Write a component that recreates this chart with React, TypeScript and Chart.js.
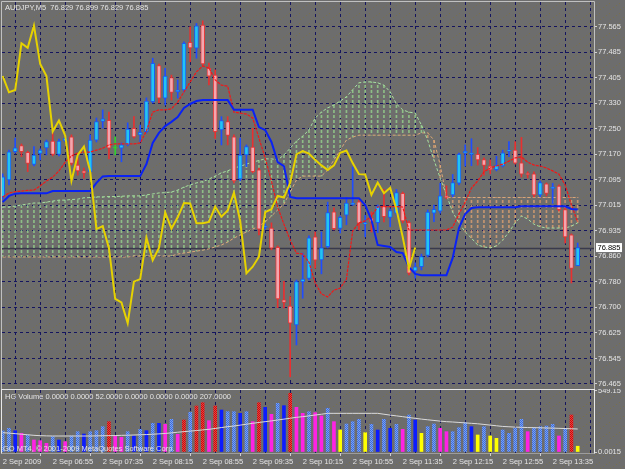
import React, { useEffect, useRef } from "react";
import { Chart, registerables } from "chart.js";
Chart.register(...registerables);

const FONT = "Liberation Sans";
const symbolName = "AUDJPY,M5";
const timeLabels = ["2 Sep 2009", "2 Sep 06:55", "2 Sep 07:35", "2 Sep 08:15", "2 Sep 08:55", "2 Sep 09:35", "2 Sep 10:15", "2 Sep 10:55", "2 Sep 11:35", "2 Sep 12:15", "2 Sep 12:55", "2 Sep 13:35"];
const priceTickLabels = ["76.465", "76.545", "76.625", "76.700", "76.780", "76.860", "76.935", "77.015", "77.095", "77.170", "77.250", "77.330", "77.405", "77.485", "77.565"];
const volTickValues = [0, 549.15];
const volTickLabels = ["0.0015", "549.15"];
const volTitle = "HG Volume 0.0000 0.0000 52.0000 0.0000 0.0000 0.0000 207.0000";
const copyright = "GO MT4, \u00a9 2001-2009 MetaQuotes Software Corp.";

const opens = [77.042,77.093,77.180,77.199,77.178,77.141,77.175,77.192,77.213,77.172,
77.213,77.226,77.139,77.121,77.119,77.216,77.273,77.277,77.191,77.191,
77.201,77.252,77.232,77.242,77.334,77.445,77.345,77.408,77.365,77.370,
77.517,77.499,77.570,77.437,77.416,77.247,77.273,77.226,77.096,77.170,
77.194,77.124,76.947,76.945,76.886,76.724,76.705,76.647,76.780,76.790,
76.918,76.847,76.888,76.995,76.944,76.985,77.018,77.026,76.958,76.976,
76.962,77.013,76.978,76.991,77.052,76.962,76.813,76.826,76.861,76.991,
76.997,77.043,77.047,77.083,77.176,77.172,77.172,77.156,77.136,77.125,
77.136,77.182,77.185,77.146,77.112,77.112,77.047,77.081,77.067,77.074,
77.002,76.924,76.829];
const highs = [77.112,77.185,77.222,77.204,77.182,77.196,77.189,77.216,77.238,77.219,
77.225,77.232,77.161,77.130,77.232,77.284,77.309,77.302,77.226,77.207,
77.269,77.288,77.262,77.346,77.468,77.450,77.437,77.416,77.401,77.518,
77.565,77.575,77.583,77.453,77.432,77.288,77.288,77.232,77.222,77.201,
77.252,77.130,76.958,76.961,76.890,76.781,76.734,76.785,76.868,76.921,
76.933,76.933,77.025,77.007,76.982,77.039,77.133,77.031,76.984,76.995,
77.016,77.064,77.004,77.064,77.056,76.967,76.838,76.865,77.001,77.016,
77.083,77.075,77.110,77.176,77.201,77.220,77.193,77.161,77.155,77.166,
77.185,77.211,77.211,77.224,77.118,77.118,77.090,77.084,77.083,77.078,
77.007,76.927,76.899];
const lows = [77.035,77.078,77.176,77.165,77.119,77.136,77.155,77.170,77.167,77.167,
77.210,77.139,77.108,77.099,77.115,77.210,77.253,77.158,77.170,77.149,
77.198,77.222,77.211,77.238,77.330,77.330,77.324,77.339,77.345,77.364,
77.457,77.468,77.444,77.386,77.221,77.201,77.201,77.084,77.090,77.134,
77.115,76.924,76.942,76.878,76.700,76.699,76.487,76.585,76.729,76.785,
76.821,76.804,76.884,76.939,76.930,76.955,77.015,76.939,76.918,76.933,
76.931,76.964,76.949,76.985,76.961,76.801,76.791,76.816,76.856,76.965,
76.991,77.035,77.041,77.078,77.136,77.137,77.139,77.108,77.112,77.121,
77.133,77.165,77.142,77.102,77.099,77.041,77.041,77.044,77.021,76.998,
76.899,76.776,76.829];
const closes = [77.103,77.180,77.192,77.180,77.144,77.170,77.185,77.211,77.172,77.213,
77.221,77.144,77.121,77.114,77.216,77.273,77.281,77.191,77.191,77.201,
77.250,77.226,77.240,77.336,77.452,77.345,77.413,77.363,77.370,77.514,
77.500,77.568,77.450,77.413,77.242,77.276,77.230,77.090,77.170,77.196,
77.119,76.942,76.951,76.883,76.727,76.716,76.652,76.780,76.788,76.915,
76.846,76.884,76.993,76.943,76.978,77.022,77.021,76.960,76.960,76.964,
77.011,76.980,76.999,77.054,76.967,76.806,76.826,76.857,76.994,77.003,
77.044,77.039,77.085,77.172,77.182,77.174,77.155,77.138,77.124,77.138,
77.177,77.184,77.145,77.111,77.110,77.047,77.085,77.052,77.069,77.002,
76.918,76.821,76.885];

const tenkan = [77.041,77.053,77.057,77.059,77.061,77.062,77.075,77.090,77.102,77.121,
77.148,77.167,77.176,77.179,77.179,77.185,77.191,77.201,77.204,77.204,
77.204,77.204,77.207,77.244,77.302,77.309,77.309,77.312,77.333,77.364,
77.395,77.426,77.444,77.438,77.401,77.385,77.382,77.302,77.299,77.296,
77.284,77.222,77.161,77.090,77.010,76.957,76.908,76.868,76.865,76.840,
76.776,76.742,76.733,76.754,76.760,76.788,76.936,76.961,76.967,76.982,
77.010,77.011,77.011,77.011,77.010,76.939,76.939,76.939,76.939,76.939,
76.939,76.939,76.948,76.988,77.025,77.068,77.090,77.118,77.130,77.136,
77.142,77.151,77.161,77.164,77.148,77.139,77.136,77.130,77.121,77.111,
77.078,77.016,76.964];
const kijun = [77.025,77.044,77.051,77.052,77.052,77.052,77.052,77.052,77.059,77.059,
77.059,77.059,77.059,77.059,77.059,77.084,77.104,77.105,77.105,77.105,
77.105,77.105,77.105,77.142,77.207,77.238,77.259,77.272,77.287,77.315,
77.327,77.336,77.339,77.339,77.339,77.339,77.339,77.309,77.309,77.309,
77.309,77.256,77.247,77.210,77.148,77.136,77.041,77.037,77.037,77.037,
77.037,77.037,77.037,77.037,77.037,77.037,77.037,77.037,77.016,76.970,
76.893,76.890,76.887,76.871,76.868,76.825,76.804,76.800,76.800,76.800,
76.800,76.800,76.853,76.945,76.988,77.007,77.009,77.009,77.009,77.009,
77.009,77.009,77.009,77.012,77.012,77.012,77.012,77.012,77.012,77.012,
77.012,77.004,77.002];
const spanA = [77.010,77.010,77.013,77.016,77.019,77.022,77.022,77.025,77.028,77.031,
77.031,77.033,77.034,77.038,77.039,77.041,77.041,77.042,77.042,77.043,
77.044,77.044,77.044,77.047,77.050,77.053,77.054,77.056,77.062,77.071,
77.078,77.084,77.088,77.096,77.105,77.115,77.121,77.130,77.135,77.142,
77.148,77.153,77.158,77.158,77.155,77.170,77.191,77.213,77.228,77.247,
77.284,77.302,77.315,77.324,77.336,77.349,77.371,77.392,77.395,77.395,
77.392,77.385,77.364,77.327,77.309,77.302,77.299,77.262,77.216,77.155,
77.099,77.047,76.994,76.961,76.933,76.914,76.893,76.887,76.884,76.890,
76.908,76.933,76.961,76.982,76.973,76.957,76.949,76.945,76.945,76.945,
76.945,76.951,76.961];
const spanB = [76.856,76.856,76.856,76.856,76.856,76.856,76.856,76.856,76.856,76.856,
76.856,76.856,76.856,76.856,76.856,76.856,76.856,76.856,76.856,76.856,
76.856,76.859,76.859,76.859,76.859,76.859,76.859,76.859,76.865,76.868,
76.871,76.874,76.877,76.881,76.887,76.893,76.902,76.914,76.924,76.933,
76.942,76.951,76.964,76.982,77.001,77.019,77.056,77.093,77.105,77.105,
77.105,77.105,77.124,77.155,77.185,77.216,77.225,77.231,77.231,77.231,
77.231,77.231,77.231,77.231,77.231,77.231,77.231,77.238,77.238,77.216,
77.139,77.039,77.039,77.039,77.039,77.039,77.039,77.039,77.039,77.039,
77.039,77.039,77.039,77.039,77.039,77.039,77.039,77.039,77.039,77.039,
77.039,77.039,77.039];

const volumes = [190,213,192,168,153,108,102,78,138,108,
93,144,183,162,183,192,228,273,144,132,
183,144,204,192,258,258,249,294,159,288,
357,414,444,282,414,378,363,363,348,363,
273,444,402,339,438,417,528,402,348,363,
354,324,393,273,198,252,273,294,174,249,
198,294,213,249,204,333,288,168,228,252,
213,183,183,219,264,228,153,228,144,123,
198,168,213,294,183,219,228,234,249,144,
213,333,52];
const volKinds = ["h","h","b","m","h","m","m","m","h","b",
"m","h","h","b","h","h","h","r","m","m",
"h","b","h","b","h","b","m","h","m","r",
"h","r","r","m","r","b","h","h","b","h",
"m","r","b","m","h","b","r","m","m","h",
"m","m","h","m","y","h","h","h","y","h",
"b","h","b","h","m","h","b","y","h","h",
"m","m","h","h","h","b","y","h","y","y",
"h","h","h","h","m","h","h","h","h","m",
"h","r","y"];
const volMA = [174,170,165,160,155,150,147,145,144,144,
144,144,144,144,144,145,146,147,148,150,
151,153,155,157,160,163,167,172,178,183,
188,193,199,204,212,220,228,234,242,250,
258,266,273,280,288,296,304,312,318,325,
333,340,348,348,348,348,348,348,348,348,
348,340,332,325,318,310,303,296,290,284,
278,273,270,266,262,258,254,248,242,236,
230,227,224,222,220,219,218,216,215,213,
211,209,207];

const CHIKOU_SHIFT = 26;
const XMIN = -0.112, XMAX = 94.61;
const YMIN = 76.4588, YMAX = 77.641;
const VMIN = -9, VMAX = 558;

const fontStr = `7.5px "${FONT}"`;

function makeBg(ctx: CanvasRenderingContext2D) {
  const c = document.createElement("canvas");
  c.width = 10; c.height = 10;
  const g = c.getContext("2d")!;
  g.fillStyle = "#6d6d6d"; g.fillRect(0, 0, 10, 10);
  g.fillStyle = "#7b7048";
  [[0, 9], [3, 7], [6, 5], [9, 3]].forEach(([x, y]) => g.fillRect(x, y, 1, 1));
  return ctx.createPattern(c, "repeat");
}
function makeDash(ctx: CanvasRenderingContext2D, color: string) {
  const c = document.createElement("canvas");
  c.width = 2; c.height = 5;
  const g = c.getContext("2d")!;
  g.fillStyle = color; g.fillRect(0, 0, 2, 3);
  return ctx.createPattern(c, "repeat");
}
function makeChecker(ctx: CanvasRenderingContext2D, a: string, b: string) {
  const c = document.createElement("canvas");
  c.width = 2; c.height = 2;
  const g = c.getContext("2d")!;
  g.fillStyle = a; g.fillRect(0, 0, 2, 2);
  g.fillStyle = b; g.fillRect(0, 0, 1, 1); g.fillRect(1, 1, 1, 1);
  return ctx.createPattern(c, "repeat");
}

export default function App() {
  const priceRef = useRef<HTMLCanvasElement>(null);
  const volRef = useRef<HTMLCanvasElement>(null);

  useEffect(() => {
    const pc = priceRef.current!, vc = volRef.current!;
    const pctx = pc.getContext("2d")!, vctx = vc.getContext("2d")!;
    const N = closes.length;
    const idx = closes.map((_, i) => i);
    const gridTicks = idx.filter((i) => i % 4 === 0);
    const priceTickValues = priceTickLabels.map((_, k) => 76.465 + (k * (77.565 - 76.465)) / (priceTickLabels.length - 1));
    const kind = (i: number) => (closes[i] > opens[i] ? "up" : closes[i] < opens[i] ? "down" : "doji");

    const bg1 = makeBg(pctx), bg2 = makeBg(vctx);
    const greenDash = makeDash(pctx, "rgba(150,210,140,0.8)");
    const tanDash = makeDash(pctx, "rgba(214,158,112,0.85)");
    const hatchBlue = makeChecker(vctx, "#3f6bdc", "#7aa4f4");
    const hatchRed = makeChecker(vctx, "#c80c0c", "#e84040");

    const gridColor = "#15155e";
    const textColor = "#e4e4e4";

    const pricePlugin = {
      id: "pricePanel",
      beforeDraw(chart: any) {
        const { ctx, width, height } = chart;
        ctx.save(); ctx.fillStyle = bg1; ctx.fillRect(0, 0, width, height); ctx.restore();
      },
      beforeDatasetsDraw(chart: any) {
        const { ctx, chartArea } = chart;
        const y = Math.round(chart.scales.y.getPixelForValue(closes[N - 1])) + 0.5;
        ctx.save(); ctx.strokeStyle = "#3a3a4c"; ctx.lineWidth = 1.5;
        ctx.beginPath(); ctx.moveTo(chartArea.left, y); ctx.lineTo(chartArea.right, y); ctx.stroke();
        ctx.restore();
      },
      afterDraw(chart: any) {
        const { ctx, chartArea } = chart;
        ctx.save();
        ctx.strokeStyle = "#c0c0c0"; ctx.lineWidth = 1;
        ctx.beginPath();
        ctx.moveTo(chartArea.left - 0.5, chart.height); ctx.lineTo(chartArea.left - 0.5, chartArea.top - 0.5);
        ctx.lineTo(chartArea.right + 0.5, chartArea.top - 0.5); ctx.lineTo(chartArea.right + 0.5, chart.height);
        ctx.stroke();
        ctx.font = fontStr; ctx.textBaseline = "middle"; ctx.fillStyle = textColor;
        const title = `${symbolName}  ${opens[N - 1].toFixed(3)} ${highs[N - 1].toFixed(3)} ${lows[N - 1].toFixed(3)} ${closes[N - 1].toFixed(3)}`;
        ctx.fillText(title, 5, 8);
        const y = chart.scales.y.getPixelForValue(closes[N - 1]);
        ctx.fillStyle = "#ffffff"; ctx.fillRect(chartArea.right + 2, y - 4.5, 26, 9);
        ctx.fillStyle = "#000000"; ctx.fillText(closes[N - 1].toFixed(3), chartArea.right + 3.5, y + 0.5);
        ctx.restore();
      },
    };

    const volPlugin = {
      id: "volPanel",
      beforeDraw(chart: any) {
        const { ctx, width, height } = chart;
        ctx.save(); ctx.fillStyle = bg2; ctx.fillRect(0, 0, width, height); ctx.restore();
      },
      afterDraw(chart: any) {
        const { ctx, chartArea } = chart;
        ctx.save();
        ctx.strokeStyle = "#e8e8e8"; ctx.lineWidth = 1;
        ctx.beginPath();
        ctx.moveTo(chartArea.left - 0.5, 0.5); ctx.lineTo(chartArea.right + 0.5, 0.5);
        ctx.moveTo(chartArea.left - 0.5, 0); ctx.lineTo(chartArea.left - 0.5, chartArea.bottom + 0.5);
        ctx.moveTo(chartArea.right + 0.5, 0); ctx.lineTo(chartArea.right + 0.5, chartArea.bottom + 0.5);
        ctx.stroke();
        ctx.setLineDash([1, 1]); ctx.strokeStyle = "#cfcfcf";
        ctx.beginPath(); ctx.moveTo(chartArea.left - 0.5, chartArea.bottom + 0.5); ctx.lineTo(chartArea.right + 0.5, chartArea.bottom + 0.5); ctx.stroke();
        ctx.font = fontStr; ctx.textBaseline = "middle"; ctx.fillStyle = textColor;
        ctx.fillText(volTitle, 5, 8);
        ctx.fillText(copyright, 3, 60);
        ctx.restore();
      },
    };

    const candleBody = {
      type: "bar",
      data: idx.map((i) => ({ x: i, y: [opens[i], closes[i]] })),
      backgroundColor: idx.map((i) => (kind(i) === "up" ? "#22c4f4" : kind(i) === "down" ? "#f3a6ae" : "#2ed02e")),
      borderColor: idx.map((i) => (kind(i) === "up" ? "#1a5ef0" : kind(i) === "down" ? "#e23a3a" : "#2ed02e")),
      borderWidth: 1, borderSkipped: false, barThickness: 4, minBarLength: 1, grouped: false, order: 4,
    };
    const candleWick = {
      type: "bar",
      data: idx.map((i) => ({ x: i, y: [lows[i], highs[i]] })),
      backgroundColor: idx.map((i) => (kind(i) === "up" ? "#1f4dff" : kind(i) === "down" ? "#e83030" : "#2ed02e")),
      borderWidth: 0, barThickness: 1, grouped: false, order: 5,
    };
    const greenCloud = {
      type: "bar",
      data: idx.filter((i) => spanA[i] >= spanB[i]).map((i) => ({ x: i, y: [spanB[i], spanA[i]] })),
      backgroundColor: greenDash, borderWidth: 0, barThickness: 1, grouped: false, order: 10,
    };
    const tanCloud = {
      type: "bar",
      data: idx.filter((i) => spanA[i] < spanB[i]).map((i) => ({ x: i, y: [spanA[i], spanB[i]] })),
      backgroundColor: tanDash, borderWidth: 0, barThickness: 1, grouped: false, order: 10,
    };
    const line = (data: any[], color: string, width: number, dash: number[], order: number) => ({
      type: "line", data, borderColor: color, borderWidth: width, borderDash: dash,
      pointRadius: 0, tension: 0, fill: false, order,
    });

    const chart1 = new Chart(pc, {
      type: "bar",
      data: {
        datasets: [
          greenCloud, tanCloud,
          line(idx.map((i) => ({ x: i, y: spanA[i] })), "#a6e0a0", 1, [3, 2], 9),
          line(idx.map((i) => ({ x: i, y: spanB[i] })), "#dca878", 1, [3, 2], 9),
          candleWick, candleBody,
          line(idx.map((i) => ({ x: i, y: tenkan[i] })), "#f01818", 1.2, [3, 1], 3),
          line(idx.map((i) => ({ x: i, y: kijun[i] })), "#0a22f4", 2, [], 2),
          line(idx.slice(0, N - CHIKOU_SHIFT).map((i) => ({ x: i, y: closes[i + CHIKOU_SHIFT] })), "#e6d200", 2, [], 1),
        ] as any,
      },
      options: {
        responsive: false, animation: false, devicePixelRatio: 1, events: [],
        layout: { padding: { left: 2, top: 2, right: 0, bottom: 3 } },
        plugins: { legend: { display: false }, tooltip: { enabled: false } },
        scales: {
          x: {
            type: "linear", min: XMIN, max: XMAX, bounds: "data", offset: false,
            ticks: { display: false },
            grid: { color: gridColor, lineWidth: 1, drawTicks: false },
            border: { display: false, dash: [3, 3] },
            afterBuildTicks: (s: any) => { s.ticks = gridTicks.map((v) => ({ value: v })); },
            afterFit: (s: any) => { s.height = 0; s.paddingLeft = 0; s.paddingRight = 0; },
          },
          y: {
            type: "linear", position: "right", min: YMIN, max: YMAX, bounds: "data",
            ticks: {
              color: textColor, font: { family: FONT, size: 7.5 }, padding: 1, autoSkip: false,
              callback: (_v: any, i: number) => priceTickLabels[i],
            },
            grid: { color: gridColor, lineWidth: 1, tickLength: 3, tickColor: "#d0d0d0" },
            border: { display: false, dash: [3, 3] },
            afterBuildTicks: (s: any) => { s.ticks = priceTickValues.map((v) => ({ value: v })); },
            afterFit: (s: any) => { s.width = 31; s.paddingTop = 0; s.paddingBottom = 0; },
          },
        },
      } as any,
      plugins: [pricePlugin],
    } as any);

    const volColor = (k: string) =>
      k === "h" ? hatchBlue : k === "b" ? "#0c1cff" : k === "m" ? "#ff22e4" : k === "r" ? hatchRed : "#ffff00";

    const chart2 = new Chart(vc, {
      type: "bar",
      data: {
        datasets: [
          {
            type: "bar", data: idx.map((i) => ({ x: i, y: volumes[i] })),
            backgroundColor: idx.map((i) => volColor(volKinds[i])),
            borderWidth: 0, barThickness: 3, grouped: false, order: 2,
          },
          line(idx.map((i) => ({ x: i, y: volMA[i] })), "#dadada", 1, [], 1),
        ] as any,
      },
      options: {
        responsive: false, animation: false, devicePixelRatio: 1, events: [],
        layout: { padding: { left: 2, top: 1, right: 0, bottom: 0 } },
        plugins: { legend: { display: false }, tooltip: { enabled: false } },
        scales: {
          x: {
            type: "linear", min: XMIN, max: XMAX, bounds: "data", offset: false,
            ticks: {
              color: textColor, font: { family: FONT, size: 7.5 }, padding: 1, align: "start",
              autoSkip: false, maxRotation: 0, minRotation: 0,
              callback: (v: any) => (v % 8 === 0 ? timeLabels[v / 8] : ""),
            },
            grid: {
              color: gridColor, lineWidth: 1, tickLength: 3,
              tickColor: (c: any) => (c.tick && c.tick.value % 8 === 0 ? "#d0d0d0" : "rgba(0,0,0,0)"),
            },
            border: { display: false, dash: [3, 3] },
            afterBuildTicks: (s: any) => { s.ticks = gridTicks.map((v) => ({ value: v })); },
            afterFit: (s: any) => { s.height = 16; s.paddingLeft = 0; s.paddingRight = 0; },
          },
          y: {
            type: "linear", position: "right", min: VMIN, max: VMAX, bounds: "data",
            ticks: {
              color: textColor, font: { family: FONT, size: 7.5 }, padding: 1, autoSkip: false,
              callback: (_v: any, i: number) => volTickLabels[i],
            },
            grid: { drawOnChartArea: false, tickLength: 3, tickColor: "#d0d0d0" },
            border: { display: false },
            afterBuildTicks: (s: any) => { s.ticks = volTickValues.map((v) => ({ value: v })); },
            afterFit: (s: any) => { s.width = 31; s.paddingTop = 0; s.paddingBottom = 0; },
          },
        },
      } as any,
      plugins: [volPlugin],
    } as any);

    return () => { chart1.destroy(); chart2.destroy(); };
  }, []);

  return (
    <div style={{ position: "fixed", left: 0, top: 0, width: 625, height: 469, overflow: "hidden", background: "#6d6d6d" }}>
      <canvas ref={priceRef} width={625} height={389} style={{ position: "absolute", left: 0, top: 0, width: 625, height: 389 }} />
      <canvas ref={volRef} width={625} height={80} style={{ position: "absolute", left: 0, top: 389, width: 625, height: 80 }} />
    </div>
  );
}
